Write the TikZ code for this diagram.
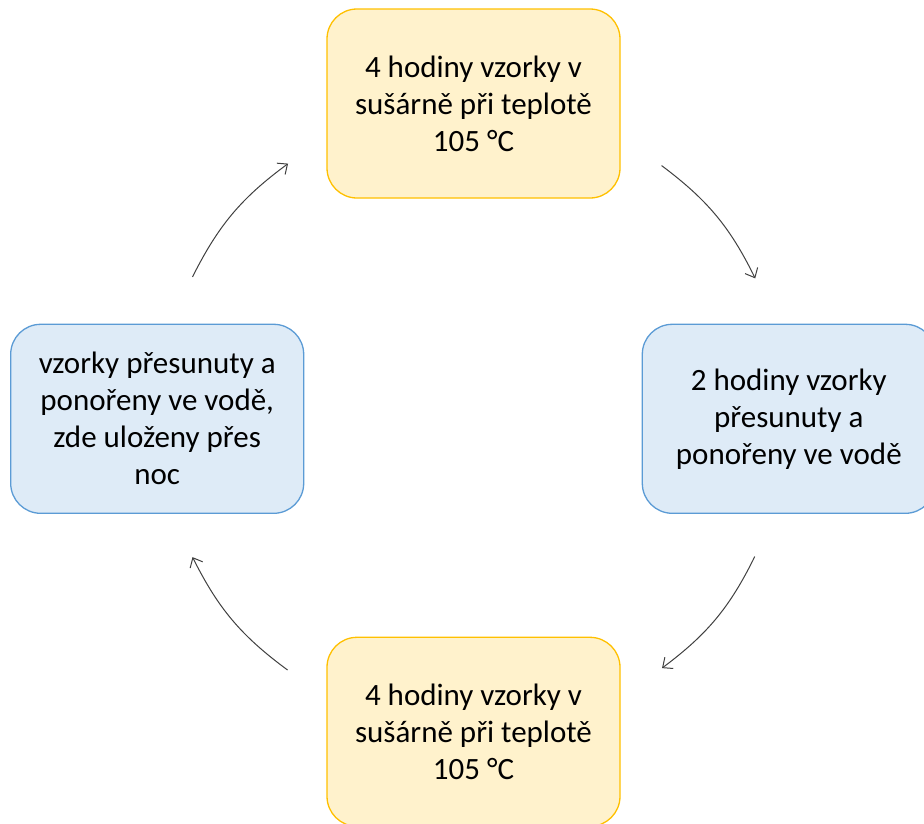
\documentclass[tikz,border=0pt]{standalone}
\usepackage{fontspec}
\setmainfont{Carlito}
\usetikzlibrary{arrows.meta, positioning}
\usepackage{xcolor}
\definecolor{dryfill}{HTML}{FFF2CC}
\definecolor{dryline}{HTML}{FFC000}
\definecolor{soakfill}{HTML}{DEEBF7}
\definecolor{soakline}{HTML}{5B9BD5}

\begin{document}
\begin{tikzpicture}[
    x=1pt, y=1pt,
    node distance=125pt and 21pt,
    stage/.style={
      rectangle, rounded corners=30pt,
      minimum width=293pt, minimum height=189pt,
      align=center, font=\fontsize{31}{37}\selectfont,
      inner sep=0pt, line width=1.3pt
    },
    dry/.style={stage, draw=dryline, fill=dryfill},
    soak/.style={stage, draw=soakline, fill=soakfill},
    arrow/.style={-{Straight Barb[length=8pt, width=14pt]}, line width=1pt, draw=black!75}
  ]
    \useasboundingbox (0,0) rectangle (924,-823);

    \node[dry] (dry1) at (473.5,-103.5) {4 hodiny vzorky v\\sušárně při teplotě\\105 °C};
    \node[soak, below right=of dry1] (soak1) {2 hodiny vzorky\\přesunuty a\\ponořeny ve vodě};
    \node[dry, below=438pt of dry1] (dry2) {4 hodiny vzorky v\\sušárně při teplotě\\105 °C};
    \node[soak, below left=125pt and 22pt of dry1] (soak2) {vzorky přesunuty a\\ponořeny ve vodě,\\zde uloženy přes\\noc};

    % ends of the four arcs round the middle
    \coordinate (hub) at (473.5,-417);
    \coordinate (a1s) at ([shift={(53.2:314)}]hub);
    \coordinate (a1e) at ([shift={(26.2:314)}]hub);
    \coordinate (a2s) at ([shift={(-26.4:314)}]hub);
    \coordinate (a2e) at ([shift={(-53.1:314)}]hub);
    \coordinate (a3s) at ([shift={(-126.3:314)}]hub);
    \coordinate (a3e) at ([shift={(-153.5:314)}]hub);
    \coordinate (a4s) at ([shift={(153.5:314)}]hub);
    \coordinate (a4e) at ([shift={(126.2:314)}]hub);

    \draw[arrow] (a1s) to[bend left=13.5] (a1e);
    \draw[arrow] (a2s) to[bend left=13.5] (a2e);
    \draw[arrow] (a3s) to[bend left=13.5] (a3e);
    \draw[arrow] (a4s) to[bend left=13.5] (a4e);
  \end{tikzpicture}
\end{document}
